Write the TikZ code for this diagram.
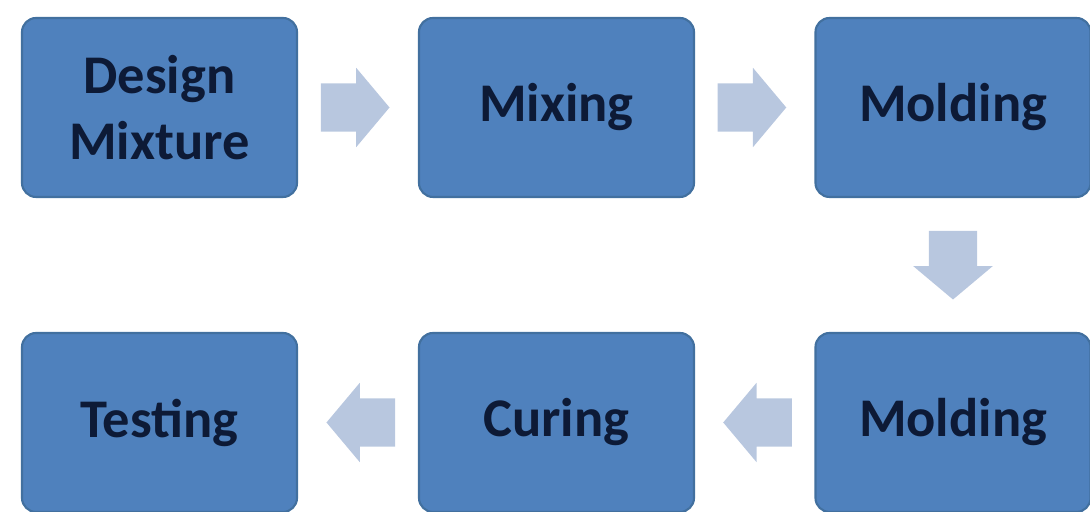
\documentclass[tikz,border=0pt]{standalone}
\usepackage{fontspec}
\setmainfont{Carlito}
\usetikzlibrary{shapes.arrows,calc}
\definecolor{boxblue}{HTML}{4F81BD}
\definecolor{boxedge}{HTML}{42709F}
\definecolor{arrowgray}{HTML}{B8C7DF}
\definecolor{textnavy}{HTML}{0D1A36}
\tikzset{
  stagebox/.style={rectangle, rounded corners=4pt, fill=boxblue, draw=boxedge, line width=0.6pt,
    minimum width=2.75cm, minimum height=1.79cm, text=textnavy, align=center,
    font=\fontsize{15.5}{18.8}\selectfont\bfseries},
  blockarrow/.style={single arrow, fill=arrowgray, draw=none, inner sep=0.235cm,
    minimum height=0.64cm, minimum width=0.78cm, single arrow head extend=0.155cm,
    single arrow tip angle=100}
}
\begin{document}
\begin{tikzpicture}[line join=round, line cap=round]
\useasboundingbox (0,0) rectangle (10.9,-5.12);
\node[stagebox] (design) at (1.595,-1.075) {Design\\Mixture};
\node[stagebox] (mixing) at (5.565,-1.075) {Mixing};
\node[stagebox] (mold1) at (9.53,-1.075) {Molding};
\node[stagebox] (mold2) at (9.53,-4.225) {Molding};
\node[stagebox] (curing) at (5.565,-4.225) {Curing};
\node[stagebox] (testing) at (1.595,-4.225) {Testing};

\foreach \from/\to/\dir/\dx/\dy in {design/mixing/0/-0.13/0,mixing/mold1/0/-0.13/0,mold1/mold2/270/0/0.1,mold2/curing/180/0.13/0,curing/testing/180/0.13/0}
\node[blockarrow, shape border rotate=\dir, xshift=\dx cm, yshift=\dy cm] (arr-\from) at ($(\from)!.5!(\to)$) {};
\end{tikzpicture}
\end{document}
